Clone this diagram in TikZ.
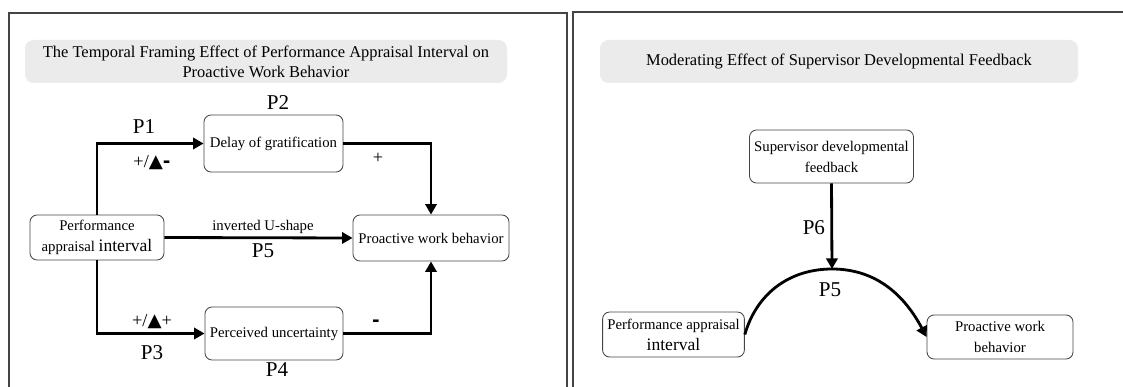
\documentclass[tikz,border=0pt]{standalone}
\usepackage{fontspec}
\setmainfont{Liberation Serif}
\newfontfamily\symfont{DejaVu Sans}
\usepackage{tikz}
\usetikzlibrary{arrows.meta}
\usepackage{xcolor}
\definecolor{framegray}{HTML}{444444}
\definecolor{titlegray}{HTML}{EBEBEB}

\begin{document}
\begin{tikzpicture}[x=0.025cm,y=-0.025cm,
  panel/.style={framegray,line width=1.1pt},
  titlebox/.style={fill=titlegray,rounded corners=6pt,align=center,font=\fontsize{11.7}{14}\selectfont},
  varbox/.style={draw=framegray,line width=0.6pt,rounded corners=5pt,align=center,font=\fontsize{10.5}{15}\selectfont},
  plabel/.style={font=\fontsize{15}{17}\selectfont},
  sign/.style={font=\fontsize{13}{15}\selectfont},
  link/.style={line width=2pt,-{Triangle[length=7.5pt,width=8pt]}}]
\useasboundingbox (0,0) rectangle (1123,387);
\draw[panel] (9,400) |- (567,13) -- (567,400);
\draw[panel] (573,400) |- (1130,12);
\node[titlebox,minimum width=482*0.025cm,minimum height=43*0.025cm] (t1) at (266,61.5)
  {The Temporal Framing Effect of Performance Appraisal Interval on\\Proactive Work Behavior};
\node[titlebox,minimum width=478*0.025cm,minimum height=43*0.025cm] (t2) at (839,61.5)
  {Moderating Effect of Supervisor Developmental Feedback};
\node[varbox,minimum width=139*0.025cm,minimum height=57*0.025cm] (dog) at (273.5,143.5) {Delay of gratification};
\node[varbox,minimum width=134*0.025cm,minimum height=45*0.025cm] (pai) at (97,237.5)
  {Performance\\appraisal {\fontsize{12.5}{15}\selectfont interval}};
\node[varbox,minimum width=156*0.025cm,minimum height=46*0.025cm] (pwb) at (431,238) {Proactive work behavior};
\node[varbox,minimum width=138*0.025cm,minimum height=53*0.025cm] (pu) at (274,333.5) {Perceived uncertainty};
\draw[link] (pai.north) |- (dog.west);
\draw[link] (dog.east) -| (pwb.north);
\draw[link] (pai.east) -- (pwb.west);
\draw[link] (pai.south) |- (pu.west);
\draw[link] (pu.east) -| (pwb.south);
\node[plabel] (p2) at (278,103) {P2};
\node[plabel] (p1) at (144,127) {P1};
\node[sign] (s1) at (152,163) {+/{\symfont\bfseries ▲}{\symfont\bfseries -}};
\node[sign] (s2) at (378,158) {+};
\node[varbox,draw=none] (inv) at (263,227) {inverted U-shape};
\node[plabel] (p5) at (263,251) {P5};
\node[sign] (s3) at (152,322) {+/{\symfont\bfseries ▲}+};
\node[plabel] (p3) at (152,353) {P3};
\node[plabel] (p4) at (277,370) {P4};
\node[sign] (s4) at (376,323) {{\symfont\bfseries -}};
\node[varbox,minimum width=163*0.025cm,minimum height=53*0.025cm] (sdf) at (831.5,156.5) {Supervisor developmental\\feedback};
\node[varbox,minimum width=137*0.025cm,minimum height=45*0.025cm] (pai2) at (673.5,334.5)
  {Performance appraisal\\{\fontsize{12.5}{15}\selectfont interval}};
\node[varbox,minimum width=146*0.025cm,minimum height=44*0.025cm] (pwb2) at (1000,337) {Proactive work\\behavior};
\coordinate (top) at (832,269);
\draw[link] (sdf.south) -- (top);
\draw[link] (pai2.east) to[out=74,in=180] (top) to[out=0,in=118] (pwb2.west);
\node[plabel,anchor=east] (p6) at (830,228) {P6};
\node[plabel] (p5b) at (830,290) {P5};
\end{tikzpicture}
\end{document}
